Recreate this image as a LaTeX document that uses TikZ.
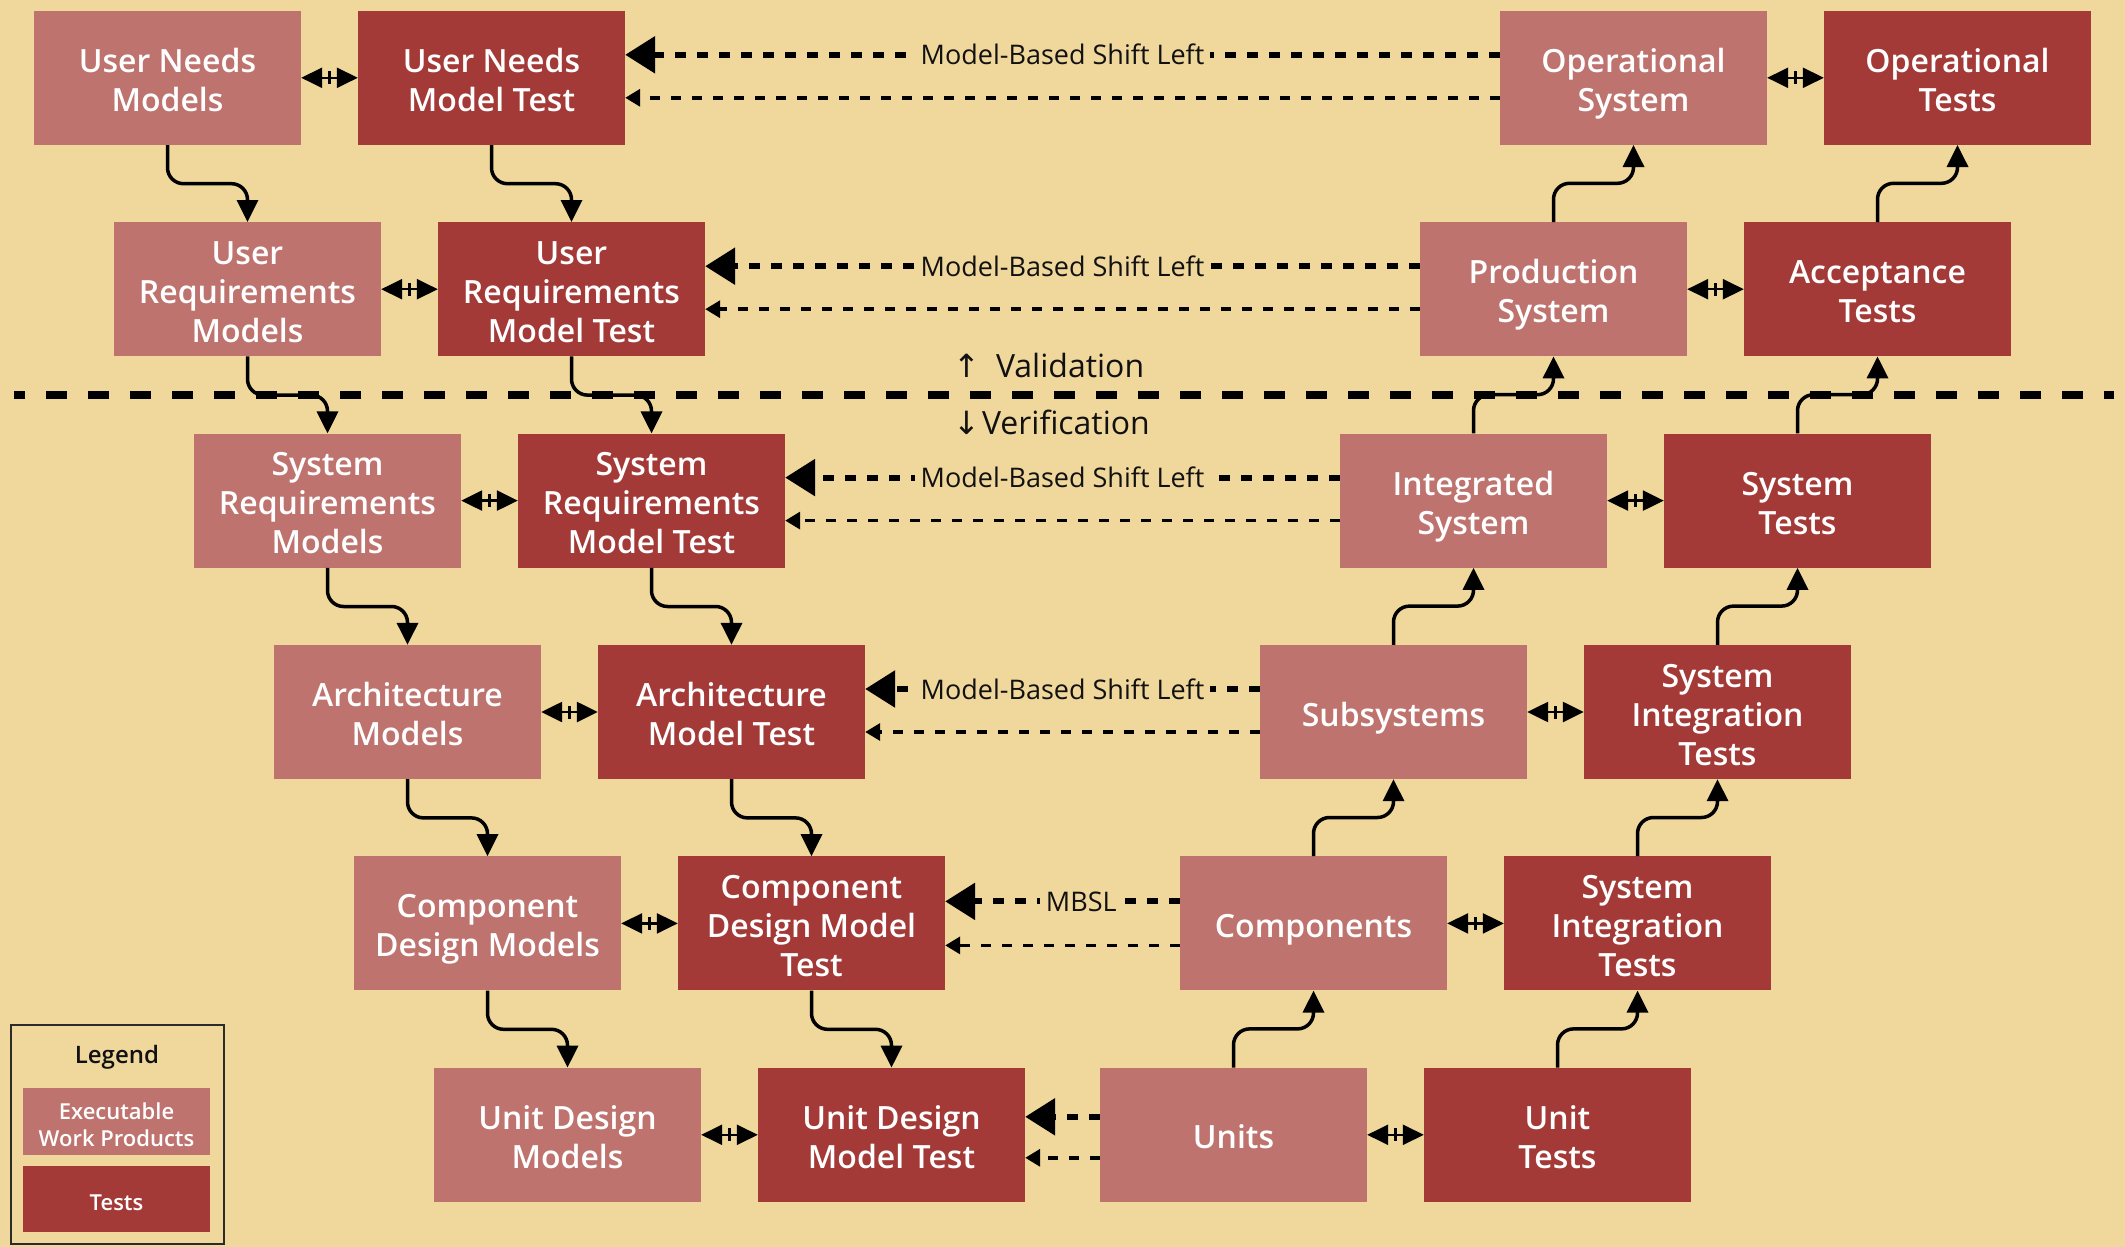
\documentclass[tikz,border=0pt]{standalone}
\usepackage{fontspec}
\setmainfont{Open Sans}[BoldFont={Open Sans Semibold}]
\newfontfamily\arrowfont{DejaVu Sans}
\usetikzlibrary{arrows.meta,calc}

\definecolor{bgwheat}{HTML}{F0D79C}
\definecolor{workprod}{HTML}{BE736E}
\definecolor{testred}{HTML}{A33A37}
\definecolor{inkblack}{HTML}{111111}
\definecolor{legendline}{HTML}{2B2B2B}

% struts for the first and last caption lines, keeping captions optically centred
\newcommand\ct{\vrule height 36pt depth 0pt width 0pt}
\newcommand\cb{\vrule height 0pt depth 8pt width 0pt}
\newcommand\lt{\vrule height 25pt depth 0pt width 0pt}
\newcommand\lb{\vrule height 0pt depth 2pt width 0pt}

\begin{document}
\begin{tikzpicture}[x=1pt,y=-1pt,
  box/.style={rectangle, minimum width=267pt, minimum height=134pt, inner sep=0pt,
    text=white, align=center, font=\fontsize{32}{39}\selectfont\bfseries},
  work/.style={box, fill=workprod},
  test/.style={box, fill=testred},
  flow/.style={line width=3.5pt, rounded corners=16pt, -{Triangle[length=22pt,width=21pt]}},
  bidir/.style={line width=2.5pt, {Triangle[length=21pt,width=20pt]}-{Triangle[length=21pt,width=20pt]}},
  midtick/.style={rectangle, fill=black, minimum width=2.5pt, minimum height=13pt, inner sep=0pt},
  shiftmain/.style={line width=6pt, dash pattern=on 11pt off 11pt, -{Triangle[length=30pt,width=36pt]}},
  shiftback/.style={line width=3.5pt, dash pattern=on 10pt off 11pt, -{Triangle[length=15pt,width=17pt]}},
  shiftlabel/.style={fill=bgwheat, inner xsep=6pt, inner ysep=2pt, text=inkblack,
    font=\fontsize{27}{30}\selectfont},
  sidetext/.style={inner sep=0pt, text=inkblack, font=\fontsize{32}{36}\selectfont},
  legbox/.style={minimum width=187pt, inner sep=0pt, text=white, align=center,
    font=\fontsize{22}{27}\selectfont\bfseries},
]
% canvas
\fill[bgwheat] (0,0) rectangle (2125,1247);
\useasboundingbox (0,0) rectangle (2125,1247);

% ---- row 1
\node[work] (unm)    at (167.5,77.8)  {\ct User Needs\\Models\cb};
\node[test] (unmt)   at (491.5,77.8)  {\ct User Needs\\Model Test\cb};
\node[work] (opsys)  at (1633.5,77.8) {\ct Operational\\System\cb};
\node[test] (optest) at (1957.5,77.8) {\ct Operational\\Tests\cb};
% ---- row 2
\node[work] (urm)     at (247.5,289.2)  {\ct User\\Requirements\\Models\cb};
\node[test] (urmt)    at (571.5,289.2)  {\ct User\\Requirements\\Model Test\cb};
\node[work] (prodsys) at (1553.5,289.2) {\ct Production\\System\cb};
\node[test] (acctest) at (1877.5,289.2) {\ct Acceptance\\Tests\cb};
% ---- row 3
\node[work] (srm)     at (327.5,500.6)  {\ct System\\Requirements\\Models\cb};
\node[test] (srmt)    at (651.5,500.6)  {\ct System\\Requirements\\Model Test\cb};
\node[work] (intsys)  at (1473.5,500.6) {\ct Integrated\\System\cb};
\node[test] (systest) at (1797.5,500.6) {\ct System\\Tests\cb};
% ---- row 4
\node[work] (arch)    at (407.5,712.0)  {\ct Architecture\\Models\cb};
\node[test] (archt)   at (731.5,712.0)  {\ct Architecture\\Model Test\cb};
\node[work] (subsys)  at (1393.5,712.0) {\ct Subsystems\cb};
\node[test] (sitest)  at (1717.5,712.0) {\ct System\\Integration\\Tests\cb};
% ---- row 5
\node[work] (cdm)     at (487.5,923.4)  {\ct Component\\Design Models\cb};
\node[test] (cdmt)    at (811.5,923.4)  {\ct Component\\Design Model\\Test\cb};
\node[work] (comps)   at (1313.5,923.4) {\ct Components\cb};
\node[test] (sitestb) at (1637.5,923.4) {\ct System\\Integration\\Tests\cb};
% ---- row 6
\node[work] (udm)      at (567.5,1134.8)  {\ct Unit Design\\Models\cb};
\node[test] (udmt)     at (891.5,1134.8)  {\ct Unit Design\\Model Test\cb};
\node[work] (units)    at (1233.5,1134.8) {\ct Units\cb};
\node[test] (unittest) at (1557.5,1134.8) {\ct Unit\\Tests\cb};

% verification / validation divider
\coordinate (divL) at (14,395);
\coordinate (divR) at (2114,395);
\draw[line width=8pt, dash pattern=on 21pt off 21pt, dash phase=10pt] (divL) -- (divR);
\node[sidetext, anchor=base west] (valtext) at (953,377) {{\arrowfont ↑}\hspace{16pt}Validation};
\node[sidetext, anchor=base west] (vertext) at (953,434) {{\arrowfont ↓}\hspace{2pt}Verification};

% decomposition flow (left leg, downward)
\foreach \a/\b in {unm/urm, urm/srm, srm/arch, arch/cdm, cdm/udm,
                   unmt/urmt, urmt/srmt, srmt/archt, archt/cdmt, cdmt/udmt}
  \draw[flow] (\a.south) -- ++(0,38.7) -| (\b.north);

% integration flow (right leg, upward)
\foreach \a/\b in {prodsys/opsys, intsys/prodsys, subsys/intsys, comps/subsys, units/comps,
                   acctest/optest, systest/acctest, sitest/systest, sitestb/sitest, unittest/sitestb}
  \draw[flow] (\a.north) -- ++(0,-38.7) -| (\b.south);

% model / test pairing
\foreach \a/\b in {unm/unmt, urm/urmt, srm/srmt, arch/archt, cdm/cdmt, udm/udmt,
                   opsys/optest, prodsys/acctest, intsys/systest, subsys/sitest,
                   comps/sitestb, units/unittest}
  \draw[bidir] (\a.east) -- node[midtick]{} (\b.west);

% model-based shift left
\foreach \a/\b in {opsys/unmt, prodsys/urmt, intsys/srmt, subsys/archt}{
  \draw[shiftmain] ([yshift=23pt]\a.west) -- node[shiftlabel]{Model-Based Shift Left} ([yshift=23pt]\b.east);
  \draw[shiftback] ([yshift=-20pt]\a.west) -- ([yshift=-20pt]\b.east);
}
\draw[shiftmain] ([yshift=22pt]comps.west) -- node[shiftlabel, pos=0.42]{MBSL} ([yshift=22pt]cdmt.east);
\draw[shiftback] ([yshift=-22pt]comps.west) -- ([yshift=-22pt]cdmt.east);
\draw[shiftmain] ([yshift=18pt]units.west) -- ([yshift=18pt]udmt.east);
\draw[shiftback] ([yshift=-23pt]units.west) -- ([yshift=-23pt]udmt.east);

% legend
\node[draw=legendline, line width=2.5pt, minimum width=213pt, minimum height=219pt, inner sep=0pt]
  (legendbox) at (117.5,1134.5) {};
\node[text=inkblack, font=\fontsize{24}{28}\selectfont\bfseries] (legendtitle) at (117,1057) {Legend};
\node[legbox, fill=workprod, minimum height=67pt] (legwork) at (116.5,1121.5) {\lt Executable\\Work Products\lb};
\node[legbox, fill=testred, minimum height=66pt] (legtest) at (116.5,1199) {\lt Tests\lb};
\end{tikzpicture}
\end{document}
